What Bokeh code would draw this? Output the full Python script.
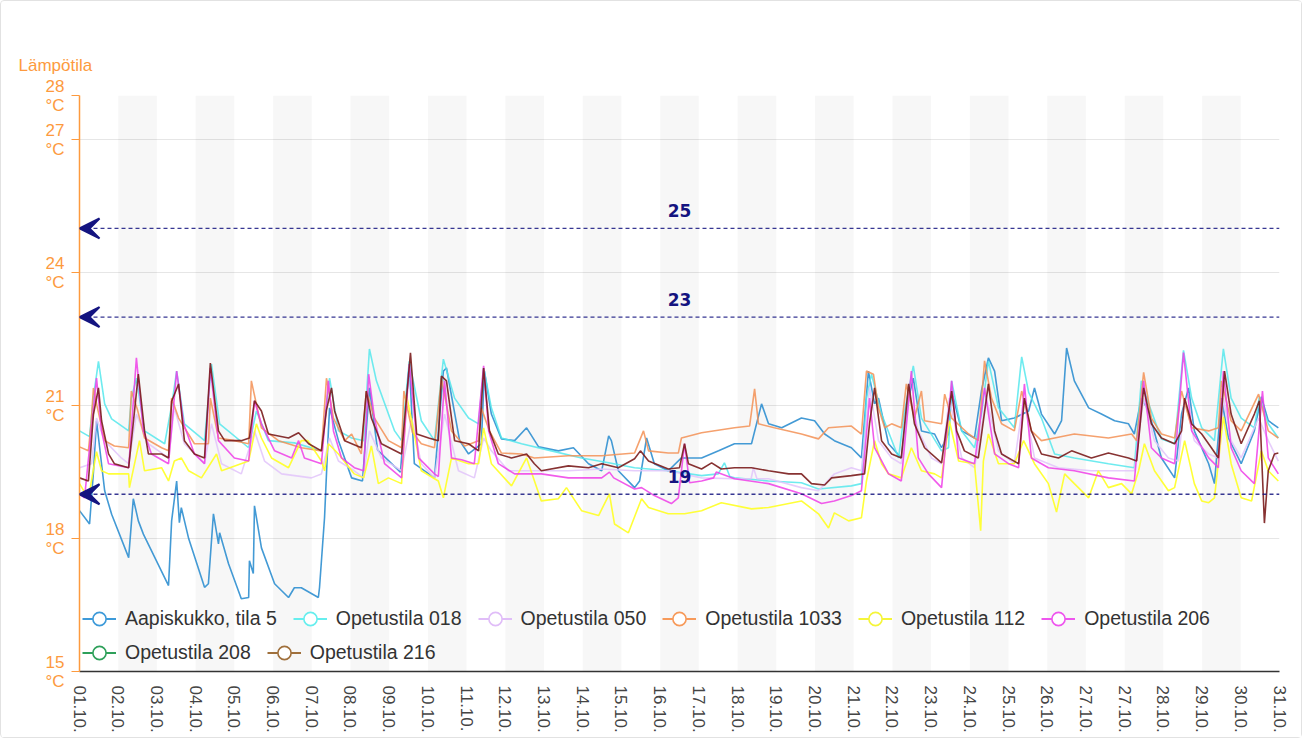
from bokeh.plotting import figure
from bokeh.models import (Label, Legend, LegendItem, Arrow, VeeHead, FixedTicker,
                          Range1d, Span)
from bokeh.embed import file_html
from bokeh.resources import INLINE

# ---------------- data ----------------
x_labels = ["01.10.", "02.10.", "03.10.", "04.10.", "05.10.", "06.10.", "07.10.", "08.10.",
            "09.10.", "10.10.", "11.10.", "12.10.", "13.10.", "14.10.", "15.10.", "16.10.",
            "17.10.", "18.10.", "19.10.", "20.10.", "21.10.", "22.10.", "23.10.", "24.10.",
            "25.10.", "26.10.", "27.10.", "27.10.", "28.10.", "29.10.", "30.10.", "31.10."]
y_ticks = [15, 18, 21, 24, 27, 28]
thresholds = [25, 23, 19]

blue_x = [0, 0.26, 0.36, 0.44, 0.65, 0.83, 1.27, 1.39, 1.52, 1.65, 2.3, 2.38, 2.51, 2.58, 2.63, 2.82,
          3.23, 3.33, 3.46, 3.59, 3.62, 3.85, 4.18, 4.37, 4.39, 4.49, 4.52, 4.7, 5.04, 5.4, 5.55,
          5.73, 6.17, 6.2, 6.33, 6.43, 6.46, 6.69, 7.03, 7.31, 7.49, 7.7, 8.29, 8.52, 8.65, 9.17,
          9.4, 9.48, 9.82, 10.05, 10.38, 10.46, 10.64, 10.9, 11.24, 11.55, 11.86, 12.37, 12.76,
          13.15, 13.49, 13.67, 13.74, 13.92, 14.34, 14.47, 14.65, 14.85, 15.21, 15.55, 16.07,
          16.51, 16.92, 17.36, 17.62, 17.8, 18.14, 18.65, 18.99, 19.25, 19.5, 19.94, 20.2, 20.38,
          20.54, 20.64, 20.9, 21.23, 21.42, 21.54, 21.75, 22.09, 22.27, 22.45, 22.53, 22.79, 23.12,
          23.3, 23.48, 23.64, 23.82, 24.15, 24.52, 24.67, 24.85, 25.19, 25.37, 25.5, 25.7, 26.07,
          26.4, 26.74, 27.1, 27.25, 27.43, 27.62, 27.95, 28.29, 28.47, 28.65, 28.8, 29.17, 29.32,
          29.5, 29.68, 30.01, 30.35, 30.53, 30.71, 30.97]
blue_y = [18.63, 18.33, 19.5, 20.66, 19.08, 18.55, 17.57, 18.9, 18.4, 18.1, 16.94, 18.4, 19.3, 18.36,
          18.7, 18.0, 16.9, 16.98, 18.56, 17.88, 18.13, 17.43, 16.64, 16.67, 17.5, 17.21, 18.74,
          17.79, 16.98, 16.67, 16.89, 16.89, 16.67, 16.89, 18.47, 20.43, 20.95, 20.21, 19.37, 19.3,
          21.4, 20.0, 19.5, 21.94, 19.69, 19.37, 21.78, 21.85, 20.21, 19.91, 20.14, 21.78, 20.81,
          20.25, 20.21, 20.5, 20.07, 19.98, 20.05, 19.69, 19.53, 20.32, 20.21, 19.53, 19.15, 19.3,
          20.27, 19.69, 19.53, 19.82, 19.82, 19.98, 20.14, 20.14, 21.04, 20.59, 20.5, 20.72, 20.66,
          20.36, 20.21, 20.05, 19.82, 21.78, 21.04, 21.17, 20.14, 19.82, 21.17, 21.62, 20.43, 20.36,
          20.05, 20.36, 21.33, 20.43, 20.27, 21.33, 22.08, 21.78, 20.66, 20.72, 20.88, 21.4, 20.81,
          20.36, 20.66, 22.3, 21.56, 20.95, 20.81, 20.66, 20.59, 20.36, 21.17, 20.88, 19.82, 19.37,
          20.81, 21.4, 20.43, 19.69, 19.24, 21.17, 20.27, 19.69, 20.43, 21.2, 20.66, 20.5]

cyan_x = [0, 0.26, 0.36, 0.49, 0.65, 0.83, 1.27, 1.34, 1.47, 1.68, 2.2, 2.38, 2.51, 2.71, 3.23, 3.41,
          3.62, 4.37, 4.57, 4.88, 5.55, 6.25, 6.46, 6.69, 7.03, 7.34, 7.49, 7.67, 8.14, 8.32, 8.52,
          8.83, 9.17, 9.4, 9.69, 10.05, 10.31, 10.44, 10.64, 10.9, 11.42, 12.19, 12.97, 13.67,
          14.34, 15.21, 16.07, 16.5, 16.66, 16.8, 16.92, 17.8, 18.65, 19.09, 19.94, 20.2, 20.33,
          20.46, 20.72, 21.16, 21.3, 21.54, 21.75, 22.27, 22.45, 22.53, 22.79, 23.12, 23.3, 23.48,
          23.74, 24.15, 24.34, 24.52, 24.85, 25.19, 25.7, 26.58, 27.25, 27.43, 27.62, 27.95, 28.29,
          28.52, 28.73, 28.99, 29.32, 29.55, 29.75, 30.01, 30.35, 30.48, 30.71, 30.97]
cyan_y = [20.43, 20.3, 21.2, 22.0, 21.04, 20.7, 20.43, 21.17, 21.62, 20.43, 20.14, 21.0, 21.78, 20.59,
          20.21, 21.94, 20.59, 20.05, 20.88, 20.21, 20.16, 19.98, 21.62, 20.43, 20.27, 20.21, 22.28,
          21.56, 20.43, 20.21, 22.0, 20.66, 20.21, 22.05, 21.17, 20.72, 20.59, 21.85, 20.95, 20.27,
          20.14, 19.98, 19.82, 19.71, 19.6, 19.53, 19.42, 19.46, 19.71, 19.4, 19.37, 19.3, 19.26,
          19.12, 19.19, 19.24, 21.17, 21.71, 20.81, 19.82, 20.8, 21.9, 20.72, 19.98, 20.05, 21.56,
          20.43, 20.05, 20.81, 22.01, 20.95, 20.5, 22.1, 21.3, 20.72, 19.91, 19.82, 19.69, 19.6,
          21.56, 21.04, 20.25, 20.14, 22.25, 21.17, 20.5, 20.21, 22.28, 21.17, 20.72, 20.5, 21.2,
          20.59, 20.27]

lavender_x = [0, 0.31, 0.44, 0.65, 1.08, 1.27, 1.47, 1.78, 2.3, 2.45, 2.71, 3.23, 3.41, 3.67, 4.18,
              4.52, 4.78, 5.22, 5.99, 6.25, 6.46, 6.69, 7.1, 7.34, 7.49, 7.8, 8.32, 8.58, 8.83, 9.17,
              9.43, 9.79, 10.2, 10.44, 10.64, 11.08, 11.75, 12.63, 13.49, 14.34, 15.21, 16.07,
              16.92, 17.35, 17.41, 17.5, 17.8, 18.65, 19.09, 19.5, 19.94, 20.2, 20.41, 20.64, 20.98,
              21.23, 21.44, 21.67, 22.01, 22.27, 22.47, 22.79, 23.12, 23.43, 23.74, 24.15, 24.39,
              24.67, 25.29, 26.14, 27.25, 27.49, 27.77, 28.13, 28.39, 28.55, 28.8, 29.17, 29.42,
              29.55, 29.75, 30.01, 30.46, 30.71, 30.97]
lavender_y = [19.6, 19.69, 20.72, 20.21, 19.82, 19.69, 20.81, 20.14, 19.82, 20.95, 20.14, 19.69, 20.59,
              19.69, 19.46, 20.43, 19.75, 19.46, 19.37, 19.46, 20.27, 19.75, 19.53, 19.37, 20.43,
              19.82, 19.53, 20.72, 19.69, 19.37, 20.81, 19.53, 19.37, 20.27, 19.98, 19.53, 19.53,
              19.53, 19.57, 19.53, 19.53, 19.37, 19.35, 19.35, 19.6, 19.35, 19.35, 19.15, 19.08,
              19.46, 19.6, 19.53, 21.4, 20.21, 19.82, 19.69, 21.26, 20.43, 19.82, 19.69, 21.17, 19.82,
              19.6, 21.17, 19.98, 19.69, 21.17, 19.82, 19.6, 19.53, 19.53, 21.17, 20.21, 19.82, 19.75,
              21.17, 20.21, 19.91, 19.82, 21.17, 20.21, 19.82, 20.72, 20.21, 19.75]

orange_x = [0, 0.23, 0.3, 0.36, 0.45, 0.65, 0.9, 1.27, 1.34, 1.5, 1.68, 2.12, 2.3, 2.38, 2.56, 2.97,
            3.33, 3.38, 3.59, 4.0, 4.37, 4.44, 4.7, 5.14, 5.73, 6.25, 6.38, 6.56, 6.85, 7.03, 7.28,
            7.41, 7.62, 7.98, 8.32, 8.38, 8.6, 8.83, 9.17, 9.35, 9.61, 9.95, 10.31, 10.38, 10.59,
            10.9, 11.42, 11.75, 12.63, 13.49, 14.34, 14.57, 14.7, 15.21, 15.47, 15.55, 16.07, 16.92,
            17.31, 17.44, 17.54, 17.95, 18.65, 19.09, 19.35, 19.94, 20.2, 20.33, 20.51, 20.64, 20.8,
            20.98, 21.23, 21.36, 21.57, 21.75, 21.83, 22.27, 22.35, 22.53, 22.97, 23.22, 23.38,
            23.56, 23.82, 24.15, 24.34, 24.59, 24.85, 25.19, 25.7, 26.58, 27.18, 27.31, 27.49, 27.69,
            27.95, 28.29, 28.47, 28.73, 29.17, 29.42, 29.5, 29.75, 30.01, 30.46, 30.71, 30.97]
orange_y = [20.07, 19.98, 20.6, 21.4, 21.0, 20.21, 20.09, 20.05, 21.33, 20.9, 20.27, 20.05, 19.98,
            21.17, 20.72, 20.14, 20.14, 21.17, 20.27, 20.21, 20.14, 21.56, 20.5, 20.21, 20.05, 19.98,
            21.62, 20.72, 20.21, 20.36, 19.91, 21.33, 20.72, 20.21, 20.05, 21.33, 20.4, 20.14, 20.05,
            21.62, 20.43, 20.09, 20.21, 20.95, 20.43, 19.93, 19.91, 19.82, 19.87, 19.87, 19.93, 20.43,
            19.98, 19.93, 19.93, 20.27, 20.39, 20.5, 20.54, 21.38, 20.59, 20.5, 20.36, 20.25, 20.5,
            20.54, 20.36, 21.78, 21.71, 20.95, 20.5, 20.59, 20.5, 21.49, 20.72, 21.33, 20.66, 20.59,
            21.26, 20.72, 20.36, 20.21, 22.01, 21.17, 20.59, 20.43, 21.33, 20.43, 20.21, 20.27, 20.36,
            20.27, 20.36, 20.21, 21.75, 20.72, 20.36, 20.27, 21.33, 20.5, 20.43, 20.5, 21.56, 20.66,
            20.43, 21.26, 20.43, 20.27]

yellow_x = [0, 0.23, 0.44, 0.57, 0.75, 1.27, 1.29, 1.55, 1.68, 2.12, 2.3, 2.45, 2.63, 2.82, 3.15,
            3.54, 3.67, 4.37, 4.57, 4.7, 4.96, 5.4, 5.73, 5.9, 6.25, 6.33, 6.43, 6.69, 7.1, 7.34,
            7.54, 7.72, 7.98, 8.32, 8.45, 8.58, 8.83, 9.27, 9.4, 9.61, 10.05, 10.31, 10.44, 10.64,
            11.16, 11.55, 11.93, 12.37, 12.58, 12.97, 13.41, 13.69, 13.82, 14.18, 14.52, 14.7,
            15.21, 15.63, 16.07, 16.58, 17.36, 17.8, 18.65, 19.09, 19.35, 19.5, 19.87, 20.2, 20.33,
            20.54, 20.72, 20.9, 21.23, 21.49, 21.75, 22.09, 22.27, 22.47, 22.71, 23.12, 23.28,
            23.35, 23.48, 23.74, 24.15, 24.39, 24.67, 25.03, 25.24, 25.45, 25.7, 26.07, 26.32,
            26.58, 26.92, 27.18, 27.36, 27.51, 27.77, 28.13, 28.29, 28.55, 28.8, 28.99, 29.17,
            29.32, 29.55, 29.75, 30.01, 30.28, 30.53, 30.71, 30.97]
yellow_y = [19.24, 18.9, 19.96, 19.53, 19.46, 19.46, 19.15, 20.21, 19.53, 19.6, 19.3, 19.75, 19.82,
            19.53, 19.37, 19.91, 19.53, 19.75, 20.59, 20.27, 19.82, 19.6, 20.21, 20.21, 19.75, 19.53,
            20.14, 19.91, 19.46, 19.37, 20.09, 19.24, 19.37, 19.24, 21.22, 20.66, 19.53, 19.3, 18.92,
            19.82, 19.69, 19.69, 20.5, 19.69, 19.19, 19.82, 18.85, 18.9, 19.15, 18.63, 18.52, 19.01,
            18.33, 18.13, 18.9, 18.7, 18.56, 18.56, 18.63, 18.81, 18.67, 18.7, 18.85, 18.56, 18.24,
            18.58, 18.4, 18.47, 19.3, 20.21, 19.69, 19.46, 19.37, 20.05, 19.53, 19.46, 19.37, 20.66,
            19.75, 19.69, 18.18, 19.75, 20.36, 19.69, 19.69, 20.21, 19.69, 19.24, 18.6, 19.46, 19.24,
            18.92, 19.53, 19.15, 19.24, 19.01, 19.53, 20.14, 19.53, 19.08, 19.15, 20.21, 19.24, 18.85,
            18.81, 18.92, 20.75, 19.69, 18.92, 18.85, 19.98, 19.53, 19.3]

magenta_x = [0, 0.13, 0.44, 0.57, 0.75, 1.27, 1.47, 1.65, 1.86, 2.3, 2.51, 2.69, 2.97, 3.23, 3.38,
             3.59, 4.0, 4.37, 4.52, 4.7, 5.04, 5.48, 5.66, 5.81, 6.25, 6.43, 6.56, 6.77, 7.1, 7.34,
             7.47, 7.62, 7.88, 8.32, 8.52, 8.76, 9.17, 9.27, 9.43, 9.61, 9.87, 10.2, 10.44, 10.57,
             10.82, 11.24, 11.93, 12.63, 13.49, 13.69, 13.8, 14.34, 14.52, 14.85, 15.29, 15.47,
             15.63, 15.76, 16.07, 16.38, 16.45, 16.92, 17.8, 18.65, 19.17, 19.5, 19.94, 20.2, 20.41,
             20.54, 20.9, 21.23, 21.49, 21.67, 21.93, 22.27, 22.53, 22.71, 23.12, 23.38, 23.64, 24.0,
             24.26, 24.41, 24.59, 25.03, 25.7, 26.58, 27.25, 27.49, 27.69, 27.95, 28.29, 28.52,
             28.73, 29.17, 29.42, 29.55, 29.75, 30.01, 30.35, 30.56, 30.71, 30.97]
magenta_y = [19.01, 18.92, 21.62, 20.43, 19.69, 19.6, 22.08, 20.43, 19.91, 19.69, 21.78, 20.59, 19.91,
             19.69, 21.85, 20.21, 19.82, 19.75, 21.11, 20.59, 19.98, 19.82, 20.21, 19.82, 19.69,
             21.56, 20.43, 19.82, 19.6, 19.53, 21.71, 20.72, 19.69, 19.37, 21.94, 19.82, 19.46, 19.4,
             21.56, 19.82, 19.78, 19.69, 21.9, 20.43, 19.69, 19.46, 19.46, 19.37, 19.37, 19.5, 19.37,
             19.12, 19.15, 18.97, 18.79, 18.92, 20.14, 19.26, 19.3, 19.37, 19.5, 19.35, 19.24, 19.01,
             18.79, 18.85, 18.97, 19.08, 21.17, 20.05, 19.46, 19.3, 21.78, 19.82, 19.46, 19.15, 21.56,
             19.82, 19.69, 21.4, 19.91, 19.69, 19.6, 21.49, 19.82, 19.6, 19.53, 19.37, 19.3, 21.56,
             20.05, 19.82, 19.69, 22.2, 20.43, 19.82, 19.6, 21.78, 20.05, 19.53, 19.24, 21.33, 19.82,
             19.46]

green_x = []
green_y = []

brown_x = [0, 0.23, 0.36, 0.49, 0.57, 0.75, 0.9, 1.27, 1.52, 1.68, 1.78, 2.12, 2.3, 2.38, 2.56, 2.71,
           2.97, 3.23, 3.38, 3.59, 3.75, 4.18, 4.39, 4.52, 4.7, 4.88, 5.4, 5.66, 5.92, 6.25, 6.38,
           6.51, 6.59, 6.85, 7.28, 7.41, 7.54, 7.8, 8.32, 8.55, 8.71, 9.02, 9.27, 9.35, 9.48, 9.69,
           10.05, 10.31, 10.44, 10.59, 10.82, 11.16, 11.55, 11.75, 11.93, 12.63, 13.15, 13.49,
           13.92, 14.34, 14.49, 14.7, 15.21, 15.5, 15.63, 15.73, 16.07, 16.33, 16.58, 16.92, 17.36,
           17.8, 18.32, 18.65, 18.91, 19.25, 19.43, 19.94, 20.28, 20.41, 20.54, 20.72, 20.98,
           21.23, 21.42, 21.57, 21.83, 22.27, 22.53, 22.66, 22.86, 23.22, 23.48, 23.64, 23.82,
           24.26, 24.41, 24.59, 24.85, 25.29, 25.63, 26.14, 26.58, 27.1, 27.31, 27.49, 27.69,
           27.95, 28.29, 28.47, 28.55, 28.73, 28.99, 29.24, 29.42, 29.58, 29.75, 30.01, 30.35,
           30.48, 30.61, 30.71, 30.87, 30.97]
brown_y = [19.37, 19.3, 20.8, 21.4, 20.66, 19.91, 19.69, 19.6, 21.71, 20.43, 19.91, 19.91, 19.82,
           21.1, 21.49, 20.21, 19.91, 19.82, 21.96, 20.43, 20.21, 20.21, 20.27, 21.11, 20.88, 20.36,
           20.27, 20.39, 20.14, 19.98, 20.9, 21.4, 20.88, 20.21, 20.05, 21.33, 20.72, 20.14, 19.91,
           22.19, 20.36, 20.27, 20.21, 21.67, 21.56, 20.21, 20.14, 19.98, 21.85, 20.43, 19.91, 19.82,
           19.91, 19.69, 19.53, 19.64, 19.6, 19.69, 19.6, 19.8, 19.98, 19.75, 19.57, 19.6, 20.14,
           19.69, 19.57, 19.71, 19.57, 19.6, 19.6, 19.53, 19.46, 19.46, 19.24, 19.21, 19.37, 19.42,
           19.46, 20.6, 21.4, 20.21, 19.91, 19.82, 21.49, 20.59, 20.05, 19.71, 21.33, 20.43, 19.98,
           19.82, 21.49, 20.43, 19.91, 19.69, 21.17, 20.43, 19.91, 19.82, 19.98, 19.82, 19.93, 19.82,
           19.75, 21.4, 20.59, 20.27, 20.14, 20.43, 21.17, 20.59, 20.36, 20.05, 19.82, 21.78, 20.81,
           20.14, 20.81, 21.11, 18.35, 19.53, 19.91, 19.93]

series = [
    ("Aapiskukko, tila 5", blue_x, blue_y, "#2f8fd0", "#3d9ad9", 0.9),
    ("Opetustila 018", cyan_x, cyan_y, "#55e8ec", "#66eeee", 0.85),
    ("Opetustila 050", lavender_x, lavender_y, "#e2c4fa", "#e0bdf8", 0.85),
    ("Opetustila 1033", orange_x, orange_y, "#f39055", "#f79a5a", 0.85),
    ("Opetustila 112", yellow_x, yellow_y, "#ffff22", "#f5f53a", 0.9),
    ("Opetustila 206", magenta_x, magenta_y, "#ee3ee8", "#ee55ee", 0.85),
    ("Opetustila 208", green_x, green_y, "#2ea05a", "#2ea05a", 0.9),
    ("Opetustila 216", brown_x, brown_y, "#7a1c1c", "#a0703c", 0.9),
]

# ---------------- figure ----------------
ORANGE = "#fd9a3e"
NAVY = "#141480"
FONT = "Liberation Sans"

p = figure(frame_width=1200, frame_height=576, output_backend="svg", toolbar_location=None,
           x_range=Range1d(0, 31), y_range=Range1d(15, 28),
           min_border_left=78, min_border_right=22, min_border_top=94, min_border_bottom=66)
p.styles = {"border": "1px solid #e2e2e2", "border-radius": "4px"}
p.outline_line_color = None
p.background_fill_color = "white"
p.border_fill_color = "white"

p.title.text = "Lämpötila"
p.title.align = "left"
p.title.offset = -61
p.title.standoff = 42
p.title.text_color = ORANGE
p.title.text_font = FONT
p.title.text_font_size = "17px"
p.title.text_font_style = "normal"

# alternating day bands
band_left = [i for i in range(1, len(x_labels) - 1, 2)]
band_right = [i + 1 for i in band_left]
p.quad(left=band_left, right=band_right, bottom=y_ticks[0], top=y_ticks[-1],
       fill_color="#000000", fill_alpha=0.03, line_color=None)

# axes
p.xaxis.ticker = FixedTicker(ticks=list(range(len(x_labels))))
p.xaxis.major_label_overrides = {i: t for i, t in enumerate(x_labels)}
p.xaxis.major_label_orientation = "vertical"
p.xaxis.major_label_text_font = FONT
p.xaxis.major_label_text_font_size = "17px"
p.xaxis.major_label_text_color = "#444444"
p.xaxis.axis_line_color = "#333333"
p.xaxis.axis_line_width = 1.5
p.xaxis.major_tick_line_color = None
p.xaxis.minor_tick_line_color = None
p.xaxis.major_label_standoff = 8

p.yaxis.ticker = FixedTicker(ticks=y_ticks)
p.yaxis.major_label_overrides = {t: f"{t}\n°C" for t in y_ticks}
p.yaxis.major_label_text_font = FONT
p.yaxis.major_label_text_font_size = "17px"
p.yaxis.major_label_text_color = ORANGE
p.yaxis.major_label_text_line_height = 1.0
p.yaxis.major_label_standoff = 7
p.yaxis.axis_line_color = ORANGE
p.yaxis.axis_line_width = 1.5
p.yaxis.major_tick_line_color = ORANGE
p.yaxis.major_tick_out = 8
p.yaxis.major_tick_in = 0
p.yaxis.minor_tick_line_color = None

p.xgrid.grid_line_color = None
p.ygrid.ticker = FixedTicker(ticks=y_ticks)
p.ygrid.grid_line_color = "#e6e6e6"

# threshold lines
for v in thresholds:
    p.add_layout(Span(location=v, dimension="width", line_color=NAVY, line_dash="4 3",
                      line_width=1.3, line_alpha=0.85))
    p.add_layout(Arrow(x_start=0.6, y_start=v, x_end=0, y_end=v, line_alpha=0,
                       end=VeeHead(size=20, fill_color=NAVY, fill_alpha=1.0,
                                   line_color=NAVY, line_width=2)))
    p.add_layout(Label(x=15.5, y=v, y_offset=18, text=str(v), text_align="center",
                       text_baseline="middle", text_color=NAVY, text_font="DejaVu Sans",
                       text_font_style="bold", text_font_size="17px"))

# series
items = []
for name, xs, ys, lc, legc, a in series:
    if xs:
        p.line(xs, ys, line_color=lc, line_width=1.6, line_alpha=a)
    lx = xs if xs else blue_x
    ly = ys if ys else blue_y
    gl = p.line(lx, ly, line_color=legc, line_width=1.8, visible=False)
    gc = p.scatter(lx, ly, marker="circle", size=13, fill_color="white", line_color=legc,
                   line_width=1.6, visible=False)
    items.append(LegendItem(label=name, renderers=[gl, gc]))

common = dict(orientation="horizontal", padding=0, margin=0, spacing=16,
              glyph_width=34, glyph_height=33, label_standoff=9,
              label_text_font=FONT, label_text_font_size="19.5px", label_text_color="#333333",
              background_fill_alpha=0, border_line_color=None, click_policy="none")
leg1 = Legend(items=items[:6], location=(3, 36), **common)
leg2 = Legend(items=items[6:], location=(3, 2), **common)
p.add_layout(leg1, "center")
p.add_layout(leg2, "center")

open("out.html", "w").write(file_html(p, INLINE))
